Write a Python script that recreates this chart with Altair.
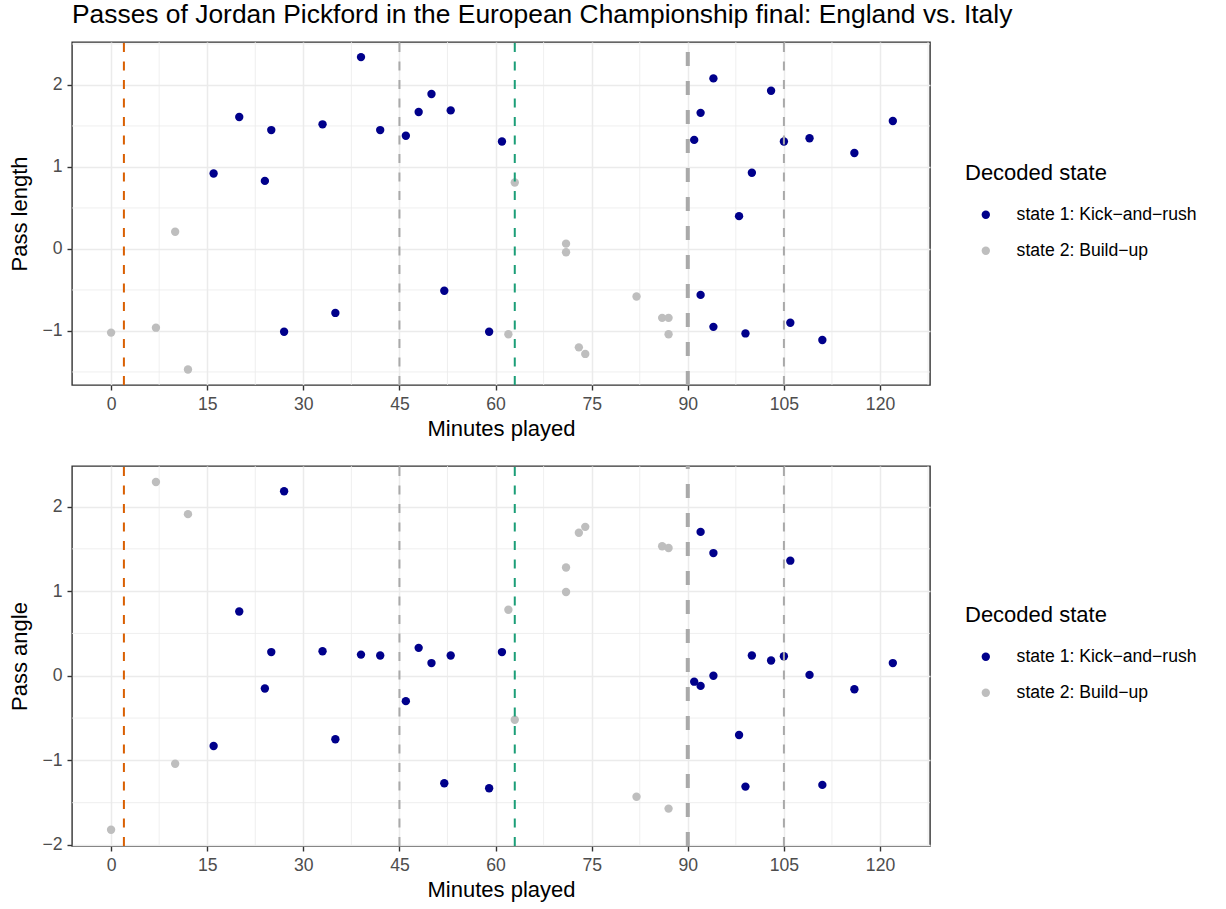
import altair as alt
import pandas as pd

# ---------------- data ----------------
minutes = [0, 7, 10, 12, 16, 20, 24, 25, 27, 33, 35, 39, 42, 46, 48, 50, 52, 53, 59, 61,
           62, 63, 71, 71, 73, 74, 82, 86, 87, 87,
           91, 92, 92, 94, 94, 98, 99, 100, 103, 105, 106, 109, 111, 116, 122]
pass_length = [-1.02, -0.96, 0.21, -1.47, 0.92, 1.61, 0.83, 1.45, -1.01, 1.52, -0.78, 2.34, 1.45, 1.38, 1.67, 1.89, -0.51, 1.69, -1.01, 1.31,
               -1.04, 0.81, 0.065, -0.04, -1.20, -1.28, -0.58, -0.84, -0.84, -1.04,
               1.33, 1.66, -0.56, 2.08, -0.95, 0.40, -1.03, 0.93, 1.93, 1.31, -0.90, 1.35, -1.11, 1.17, 1.56]
pass_angle = [-1.82, 2.29, -1.04, 1.91, -0.83, 0.76, -0.15, 0.28, 2.18, 0.29, -0.75, 0.25, 0.24, -0.30, 0.33, 0.15, -1.27, 0.24, -1.33, 0.28,
              0.78, -0.52, 1.28, 0.99, 1.69, 1.76, -1.43, 1.53, 1.51, -1.57,
              -0.07, 1.70, -0.12, 1.45, 0.00, -0.70, -1.31, 0.24, 0.18, 0.23, 1.36, 0.01, -1.29, -0.16, 0.15]
state_code = [2, 2, 2, 2, 1, 1, 1, 1, 1, 1, 1, 1, 1, 1, 1, 1, 1, 1, 1, 1,
              2, 2, 2, 2, 2, 2, 2, 2, 2, 2,
              1, 1, 1, 1, 1, 1, 1, 1, 1, 1, 1, 1, 1, 1, 1]
state_names = ["state 1: Kick\u2212and\u2212rush", "state 2: Build\u2212up"]
state_colors = ["#00008B", "#BEBEBE"]

kickoff_line = [2]
half_lines = [45, 105]
fulltime_line = [90]
sub_line = [63]

x_ticks = [0, 15, 30, 45, 60, 75, 90, 105, 120]
x_minor = [7.5, 22.5, 37.5, 52.5, 67.5, 82.5, 97.5, 112.5, 127.5]
len_ticks = [-1, 0, 1, 2]
len_minor = [-1.5, -0.5, 0.5, 1.5, 2.5]
ang_ticks = [-2, -1, 0, 1, 2]
ang_minor = [-1.5, -0.5, 0.5, 1.5]

df = pd.DataFrame({
    "minute": minutes,
    "length": pass_length,
    "angle": pass_angle,
    "state": [state_names[s - 1] for s in state_code],
})

FONT = "Liberation Sans"
W = 858
X_DOMAIN = [-6.1, 127.8]
GRID = "#EBEBEB"
DARK = "#333333"


def vlines(values, color, width, dash, xscale, xaxis, h):
    return alt.Chart(pd.DataFrame({"minute": values})).mark_rule(
        color=color, strokeWidth=width, strokeDash=dash
    ).encode(
        x=alt.X("minute:Q", scale=xscale, axis=xaxis),
        y=alt.value(h), y2=alt.value(0),
    )


def panel(field, ytitle, ydomain, yticks, yminor, h, legend_y):
    xscale = alt.Scale(domain=X_DOMAIN, nice=False, zero=False)
    yscale = alt.Scale(domain=ydomain, nice=False, zero=False)
    xaxis = alt.Axis(values=x_ticks, title="Minutes played", format="d",
                     titleY=50.7, titleBaseline="alphabetic")
    yaxis = alt.Axis(values=yticks, title=ytitle, format="d",
                     titleX=-45.5, titleBaseline="alphabetic")

    minor_x = alt.Chart(pd.DataFrame({"minute": x_minor})).mark_rule(
        color=GRID, strokeWidth=0.8, clip=True
    ).encode(x=alt.X("minute:Q", scale=xscale, axis=xaxis))
    minor_y = alt.Chart(pd.DataFrame({field: yminor})).mark_rule(
        color=GRID, strokeWidth=0.8, clip=True
    ).encode(y=alt.Y(f"{field}:Q", scale=yscale, axis=yaxis))

    pts = alt.Chart(df).mark_circle(size=70, opacity=1).encode(
        x=alt.X("minute:Q", scale=xscale, axis=xaxis),
        y=alt.Y(f"{field}:Q", scale=yscale, axis=yaxis),
        color=alt.Color("state:N",
                        scale=alt.Scale(domain=state_names, range=state_colors),
                        legend=alt.Legend(title="Decoded state", orient="none",
                                          legendX=893, legendY=legend_y,
                                          symbolType="circle", symbolSize=70,
                                          symbolOffset=12, labelOffset=22,
                                          titlePadding=21, rowPadding=17,
                                          labelLimit=400,
                                          titleFontSize=22, labelFontSize=17.6,
                                          titleFontWeight="normal", titleColor="black",
                                          labelColor="black", titleFont=FONT, labelFont=FONT)),
    )

    layers = [minor_x, minor_y, pts,
              vlines(kickoff_line, "#D95F02", 2, [9, 9.5], xscale, xaxis, h),
              vlines(half_lines, "#A9A9A9", 2, [9, 9.5], xscale, xaxis, h),
              vlines(fulltime_line, "#A9A9A9", 4, [14, 15], xscale, xaxis, h),
              vlines(sub_line, "#1B9E77", 2, [9, 9.5], xscale, xaxis, h)]
    return alt.layer(*layers).properties(width=W, height=h)


top = panel("length", "Pass length", [-1.659, 2.524], len_ticks, len_minor, 343, 121)
bottom = panel("angle", "Pass angle", [-2.012, 2.479], ang_ticks, ang_minor, 380, 139)

chart = alt.vconcat(
    top, bottom, spacing=22,
    title=alt.Title("Passes of Jordan Pickford in the European Championship final: England vs. Italy",
                    anchor="start", frame="group", fontSize=26.4, fontWeight="normal",
                    color="black", font=FONT, offset=11),
).resolve_scale(color="independent").resolve_legend(color="independent").configure(
    font=FONT, padding={"left": 7, "top": 1, "right": 5, "bottom": 5}, background="white"
).configure_view(
    stroke=DARK, strokeWidth=1.4
).configure_axis(
    grid=True, gridColor=GRID, gridWidth=1.5, domain=False,
    tickColor=DARK, tickWidth=1.4, tickSize=5,
    labelColor="#4D4D4D", labelFontSize=17.6, labelFont=FONT, labelPadding=5,
    titleColor="black", titleFontSize=22, titleFont=FONT, titleFontWeight="normal",
)

chart.save("out.html", embed_options={"renderer": "svg", "actions": False})
